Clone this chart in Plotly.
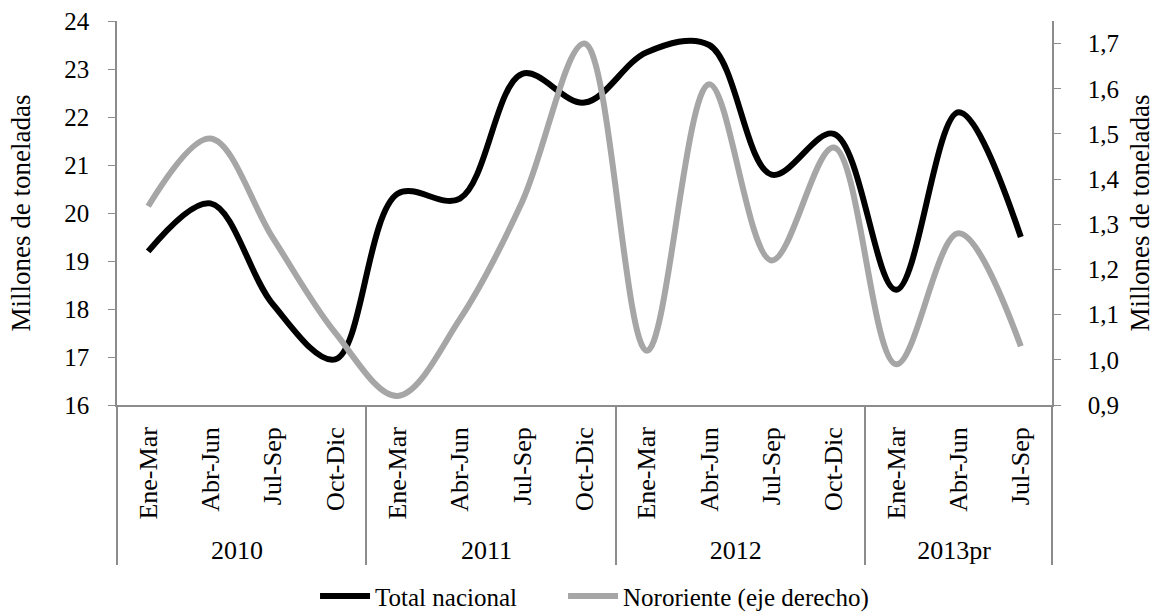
import plotly.graph_objects as go

years = ["2010"] * 4 + ["2011"] * 4 + ["2012"] * 4 + ["2013pr"] * 3
quarters = ["Ene-Mar", "Abr-Jun", "Jul-Sep", "Oct-Dic"] * 3 + ["Ene-Mar", "Abr-Jun", "Jul-Sep"]

total_nacional = [19.2, 20.2, 18.1, 16.95, 20.4, 20.3, 22.9, 22.3, 23.35, 23.5, 20.8, 21.65, 18.4, 22.1, 19.5]
nororiente = [1.34, 1.49, 1.27, 1.06, 0.92, 1.09, 1.35, 1.70, 1.02, 1.61, 1.22, 1.47, 0.99, 1.28, 1.03]

FONT = "Liberation Serif"
AX = "#8c8c8c"
n = len(quarters)

fig = go.Figure()
fig.add_trace(go.Scatter(
    x=[years, quarters], y=total_nacional, name="Total nacional",
    mode="lines", line=dict(color="#000000", width=6, shape="spline", smoothing=1.0),
    legendwidth=183,
))
fig.add_trace(go.Scatter(
    x=[years, quarters], y=nororiente, name="Nororiente (eje derecho)",
    mode="lines", line=dict(color="#a6a6a6", width=6, shape="spline", smoothing=1.0),
    yaxis="y2", legendwidth=300,
))

# outer borders of the category label area
for xp in (0, 1):
    fig.add_shape(type="line", xref="paper", yref="paper", x0=xp, x1=xp, y0=0, y1=-0.41,
                  line=dict(color=AX, width=1.5))

fig.update_layout(
    width=1155, height=613,
    margin=dict(l=117, r=103, t=21, b=208, autoexpand=False),
    paper_bgcolor="white", plot_bgcolor="white",
    separators=",.",
    font=dict(family=FONT, size=25, color="#000000"),
    showlegend=True,
    legend=dict(orientation="h", x=0.2118, xanchor="left", y=-0.498, yanchor="middle",
                font=dict(family=FONT, size=25), itemwidth=50,
                traceorder="normal"),
    xaxis=dict(type="multicategory", range=[-0.5, n - 0.5], automargin=False,
               showline=True, linecolor=AX, linewidth=1.5,
               tickangle=-90, showdividers=True, dividercolor=AX, dividerwidth=1.5,
               ticklabelstandoff=10,
               ticks="", showgrid=False, tickfont=dict(family=FONT, size=26)),
    yaxis=dict(range=[16, 24], dtick=1, tick0=16, automargin=False,
               showline=True, linecolor=AX, linewidth=1.5,
               ticks="outside", ticklen=7, tickcolor=AX, showgrid=False, zeroline=False,
               ticklabelstandoff=14,
               title=dict(text="Millones de toneladas", font=dict(family=FONT, size=27), standoff=26),
               tickfont=dict(family=FONT, size=25)),
    yaxis2=dict(range=[0.9, 1.75], dtick=0.1, tick0=0.9, tickformat=".1f", overlaying="y", side="right",
                automargin=False,
                showline=True, linecolor=AX, linewidth=1.5, ticks="outside", ticklen=7, tickcolor=AX,
                showgrid=False, zeroline=False, ticklabelstandoff=22,
                title=dict(text="Millones de toneladas", font=dict(family=FONT, size=27), standoff=20),
                tickfont=dict(family=FONT, size=25)),
)

fig.write_html("out.html", config={"displayModeBar": False},
               post_script="document.body.style.margin='0';")
